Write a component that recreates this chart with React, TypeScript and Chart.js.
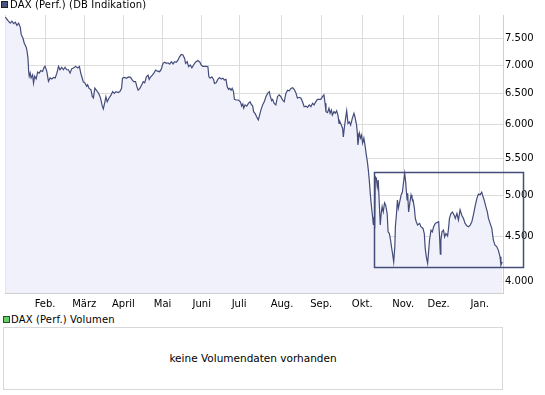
import React, { useEffect, useRef } from "react";
import { Chart, registerables } from "chart.js";

Chart.register(...registerables);

// Trading-day index (0 = first trading day of 2008) and DAX level
const tradingDay: number[] = [
  0.7, 2.1, 3.3, 4.2, 5.1, 6.0, 6.9, 7.8, 8.7, 9.2, 10.1, 10.8, 11.7, 12.2, 12.8, 13.2, 13.5, 14.0, 14.5, 15.3,
  15.8, 16.4, 17.2, 18.0, 18.8, 19.7, 20.6, 21.5, 22.0, 22.9, 23.8, 24.7, 25.6, 26.5, 27.4, 28.3, 29.2, 30.0, 30.9, 31.8,
  32.7, 33.6, 34.5, 35.4, 36.3, 37.2, 38.4, 39.5, 40.4, 41.1, 41.6, 42.5, 43.4, 44.3, 44.8, 45.5, 46.6, 47.3, 47.9, 48.7,
  49.7, 50.6, 51.4, 51.9, 52.7, 53.2, 54.1, 54.6, 55.3, 56.2, 57.4, 58.2, 59.1, 60.0, 61.2, 62.1, 63.0, 63.5, 64.4, 65.7,
  66.6, 67.8, 68.7, 69.5, 70.5, 71.2, 71.9, 72.8, 73.7, 74.6, 75.4, 76.3, 77.2, 77.8, 78.6, 79.5, 80.4, 81.3, 82.2, 83.4,
  84.3, 85.2, 86.1, 87.0, 87.9, 88.8, 89.7, 90.6, 91.4, 92.3, 93.2, 94.1, 95.0, 95.9, 96.8, 97.3, 98.2, 98.9, 99.8, 100.7,
  101.6, 102.6, 103.9, 105.0, 105.7, 106.6, 108.4, 109.3, 109.8, 110.5, 111.4, 112.3, 112.8, 113.7, 114.6, 115.5, 116.4, 117.3, 118.1, 119.0,
  119.6, 120.3, 121.0, 121.7, 122.3, 123.0, 123.5, 124.4, 125.6, 126.7, 127.4, 128.0, 128.5, 129.2, 130.1, 131.0, 131.9, 132.4, 133.3, 133.8,
  134.7, 135.4, 136.3, 137.0, 137.7, 138.6, 139.5, 140.4, 141.3, 142.2, 142.7, 143.5, 144.0, 144.8, 145.7, 146.6, 147.5, 148.4, 149.3, 150.2,
  151.1, 152.0, 152.9, 153.8, 154.7, 155.5, 156.4, 157.3, 158.2, 159.1, 160.0, 160.9, 161.8, 162.7, 163.6, 164.5, 165.4, 166.2, 167.1, 168.0,
  168.9, 169.8, 170.7, 171.5, 172.1, 172.6, 173.4, 174.2, 174.8, 175.5, 176.0, 176.9, 177.6, 178.3, 179.0, 179.6, 180.1, 180.8, 181.5, 181.9,
  182.4, 183.1, 183.7, 184.4, 185.1, 185.8, 186.7, 187.6, 188.1, 189.0, 189.4, 189.7, 190.5, 191.2, 191.7, 192.2, 192.9, 193.5, 194.2, 194.8,
  195.3, 195.8, 196.4, 196.9, 197.5, 198.0, 198.4, 198.7, 199.0, 199.6, 200.1, 200.6, 201.1, 201.7, 202.2, 202.7, 203.3, 204.0, 204.6, 205.4,
  205.9, 206.6, 207.2, 207.7, 208.4, 208.9, 209.5, 209.8, 210.4, 210.9, 211.4, 212.1, 212.9, 213.6, 214.1, 214.8, 215.3, 215.7, 216.1, 216.4,
  216.9, 217.5, 218.2, 218.7, 219.3, 220.0, 220.5, 221.0, 221.7, 222.8, 223.5, 224.6, 225.3, 225.8, 226.4, 227.1, 227.6, 228.1, 228.9, 229.6,
  230.3, 231.2, 232.1, 233.0, 233.5, 233.9, 234.2, 234.8, 235.6, 236.2, 236.9, 237.8, 238.3, 238.8, 239.6, 240.4, 241.3, 241.9, 242.8, 243.6,
  244.5, 245.4, 246.3, 247.2, 248.1, 249.0, 249.9, 250.8, 251.6, 252.5, 253.5, 254.3, 255.2, 256.1, 256.7, 257.4, 258.3, 259.1, 259.7, 260.6,
  261.5, 262.3, 263.2, 264.1, 265.0, 265.9, 266.4, 267.1,
];

const daxLevel: number[] = [
  7920, 7850, 7800, 7840, 7790, 7820, 7755, 7800, 7715, 7570, 7505, 7410, 7345, 7285, 7130, 6885, 6800, 6855, 6770, 6825,
  6680, 6800, 6755, 6875, 6855, 6900, 6885, 6960, 6975, 6885, 6710, 6770, 6750, 6780, 6770, 6855, 6975, 6915, 6960, 6915,
  6960, 6915, 6915, 6855, 6935, 6945, 6975, 6945, 6975, 6855, 6800, 6700, 6680, 6625, 6650, 6595, 6565, 6455, 6430, 6595,
  6550, 6510, 6455, 6400, 6290, 6250, 6370, 6450, 6365, 6425, 6480, 6535, 6505, 6535, 6520, 6535, 6590, 6765, 6780, 6765,
  6790, 6780, 6735, 6705, 6705, 6620, 6560, 6590, 6645, 6705, 6685, 6790, 6820, 6745, 6790, 6820, 6860, 6910, 6890, 6880,
  6925, 7030, 7050, 7030, 7040, 7015, 7060, 7020, 7060, 7050, 7090, 7150, 7195, 7185, 7120, 7030, 7060, 6970, 7000, 6950,
  7000, 7050, 7080, 7050, 7000, 6975, 6975, 6970, 6790, 6765, 6790, 6745, 6675, 6685, 6745, 6775, 6750, 6765, 6735, 6745,
  6620, 6575, 6590, 6560, 6590, 6535, 6405, 6395, 6395, 6365, 6295, 6330, 6260, 6315, 6295, 6340, 6365, 6330, 6295, 6205,
  6170, 6125, 6075, 6150, 6230, 6315, 6365, 6450, 6505, 6535, 6460, 6385, 6405, 6340, 6315, 6450, 6480, 6450, 6395, 6365,
  6505, 6560, 6550, 6590, 6600, 6575, 6520, 6425, 6440, 6430, 6365, 6285, 6295, 6275, 6315, 6285, 6340, 6315, 6365, 6405,
  6405, 6405, 6450, 6480, 6340, 6205, 6190, 6260, 6180, 6230, 6150, 6205, 6180, 6220, 6150, 6020, 6045, 5995, 5945, 5815,
  5945, 6100, 6220, 6020, 6045, 5995, 6100, 6180, 6125, 5995, 5870, 5695, 5870, 5795, 5840, 5720, 5795, 5695, 5550, 5450,
  5335, 5200, 5005, 4875, 4750, 4630, 4730, 4590, 5245, 5225, 5110, 5200, 4940, 4630, 4770, 4855, 4790, 4905, 4875, 4770,
  4550, 4530, 4455, 4380, 4285, 4210, 4380, 4610, 4770, 4940, 4835, 4915, 5005, 5045, 5155, 5290, 5180, 5045, 4940, 5025,
  4790, 4895, 5005, 4960, 4940, 4835, 4710, 4670, 4630, 4650, 4610, 4590, 4530, 4360, 4265, 4195, 4320, 4455, 4570, 4550,
  4610, 4650, 4660, 4670, 4490, 4295, 4455, 4550, 4570, 4490, 4530, 4500, 4590, 4710, 4770, 4790, 4750, 4710, 4770, 4690,
  4815, 4750, 4710, 4650, 4620, 4610, 4630, 4670, 4750, 4855, 4960, 5015, 5005, 5040, 4990, 4940, 4855, 4790, 4710, 4650,
  4590, 4455, 4395, 4380, 4340, 4265, 4175, 4210,
];

const monthTickDays: number[] = [22, 43, 64, 85, 106, 126, 149, 170, 192, 214, 233, 255];
const monthLabels: string[] = ["Feb.", "März", "April", "Mai", "Juni", "Juli", "Aug.", "Sep.", "Okt.", "Nov.", "Dez.", "Jan."];

const yTickValues: number[] = [4000, 4500, 5000, 5500, 6000, 6500, 7000, 7500];
const yTickLabels: string[] = ["4.000", "4.500", "5.000", "5.500", "6.000", "6.500", "7.000", "7.500"];

const X_RANGE: number[] = [0.5, 267.5];
const Y_RANGE: number[] = [3885, 7965];

// Highlight box: trading days and index levels
const boxDays: number[] = [198.5, 278.2];
const boxLevels: number[] = [4153, 5310];

const seriesName = "DAX (Perf.) (DB Indikation)";
const volumeName = "DAX (Perf.) Volumen";
const noVolumeText = "keine Volumendaten vorhanden";

const LINE = "#444c7a";
const FILL = "#f1f1fc";
const GRID = "#dcdcdc";
const FONT = "'DejaVu Sans', Verdana, sans-serif";

export default function App() {
  const canvasRef = useRef<HTMLCanvasElement | null>(null);

  useEffect(() => {
    const canvas = canvasRef.current;
    if (!canvas) return;
    const points = tradingDay.map((d, i) => ({ x: d, y: daxLevel[i] }));

    const boxPlugin = {
      id: "boxPlugin",
      afterDatasetsDraw(chart: any) {
        const xs = chart.scales.x;
        const ys = chart.scales.y;
        const ctx = chart.ctx;
        const x1 = xs.getPixelForValue(boxDays[0]);
        const x2 = xs.getPixelForValue(boxDays[1]);
        const y1 = ys.getPixelForValue(boxLevels[1]);
        const y2 = ys.getPixelForValue(boxLevels[0]);
        ctx.save();
        ctx.strokeStyle = LINE;
        ctx.lineWidth = 1.5;
        ctx.strokeRect(Math.round(x1) + 0.5, Math.round(y1) + 0.5, Math.round(x2 - x1), Math.round(y2 - y1));
        ctx.restore();
      },
    };

    const chart = new Chart(canvas, {
      type: "line",
      data: {
        datasets: [
          {
            data: points,
            borderColor: LINE,
            borderWidth: 1.2,
            backgroundColor: FILL,
            fill: "start",
            pointRadius: 0,
            tension: 0,
          },
        ],
      },
      options: {
        responsive: false,
        maintainAspectRatio: false,
        animation: false,
        events: [],
        layout: { padding: { left: 3, top: 15, right: 0, bottom: 0 } },
        plugins: { legend: { display: false }, tooltip: { enabled: false } },
        scales: {
          x: {
            type: "linear",
            min: X_RANGE[0],
            max: X_RANGE[1],
            grid: { color: GRID, drawTicks: false, lineWidth: 1 },
            border: { color: "#cfcfcf" },
            afterBuildTicks: (s: any) => {
              s.ticks = [{ value: X_RANGE[0] }, ...monthTickDays.map((v) => ({ value: v }))];
            },
            afterFit: (s: any) => {
              s.height = 19;
            },
            ticks: {
              autoSkip: false,
              maxRotation: 0,
              padding: 5,
              color: "#000",
              font: { family: FONT, size: 10 },
              callback: (v: any) => {
                const i = monthTickDays.indexOf(Number(v));
                return i >= 0 ? monthLabels[i] : "";
              },
            },
          },
          y: {
            type: "logarithmic",
            position: "right",
            min: Y_RANGE[0],
            max: Y_RANGE[1],
            grid: { color: GRID, drawTicks: false, lineWidth: 1 },
            border: { color: "#cfcfcf" },
            afterBuildTicks: (s: any) => {
              s.ticks = yTickValues.map((v) => ({ value: v }));
            },
            afterFit: (s: any) => {
              s.width = 42;
            },
            ticks: {
              autoSkip: false,
              padding: 2,
              color: "#000",
              font: { family: FONT, size: 10 },
              callback: (v: any) => {
                const i = yTickValues.indexOf(Number(v));
                return i >= 0 ? yTickLabels[i] : "";
              },
            },
          },
        },
      },
      plugins: [boxPlugin],
    } as any);

    return () => chart.destroy();
  }, []);

  return (
    <div
      style={{
        position: "fixed",
        left: 0,
        top: 0,
        width: 545,
        height: 395,
        background: "#fff",
        fontFamily: FONT,
        fontSize: 10,
        color: "#000",
      }}
    >
      <canvas
        ref={canvasRef}
        width={545}
        height={312}
        style={{ position: "absolute", left: 0, top: 0, width: 545, height: 312, display: "block" }}
      />
      <div
        style={{
          position: "absolute",
          left: 1,
          top: 1,
          width: 7,
          height: 7,
          boxSizing: "border-box",
          border: "1px solid #222",
          background: "#4a5280",
        }}
      />
      <div style={{ position: "absolute", left: 10, top: -1, lineHeight: "12px", whiteSpace: "nowrap", letterSpacing: "0.15px" }}>
        {seriesName}
      </div>

      <div
        style={{
          position: "absolute",
          left: 3,
          top: 316,
          width: 7,
          height: 7,
          boxSizing: "border-box",
          border: "1px solid #225522",
          background: "#66cc66",
        }}
      />
      <div style={{ position: "absolute", left: 11, top: 314, lineHeight: "12px", whiteSpace: "nowrap", letterSpacing: "0.15px" }}>
        {volumeName}
      </div>

      <div
        style={{
          position: "absolute",
          left: 3,
          top: 327,
          width: 500,
          height: 63,
          boxSizing: "border-box",
          border: "1px solid #d8d8d8",
          display: "flex",
          alignItems: "center",
          justifyContent: "center",
          paddingBottom: 2,
        }}
      >
        <span style={{ fontSize: 10.5 }}>{noVolumeText}</span>
      </div>
    </div>
  );
}
